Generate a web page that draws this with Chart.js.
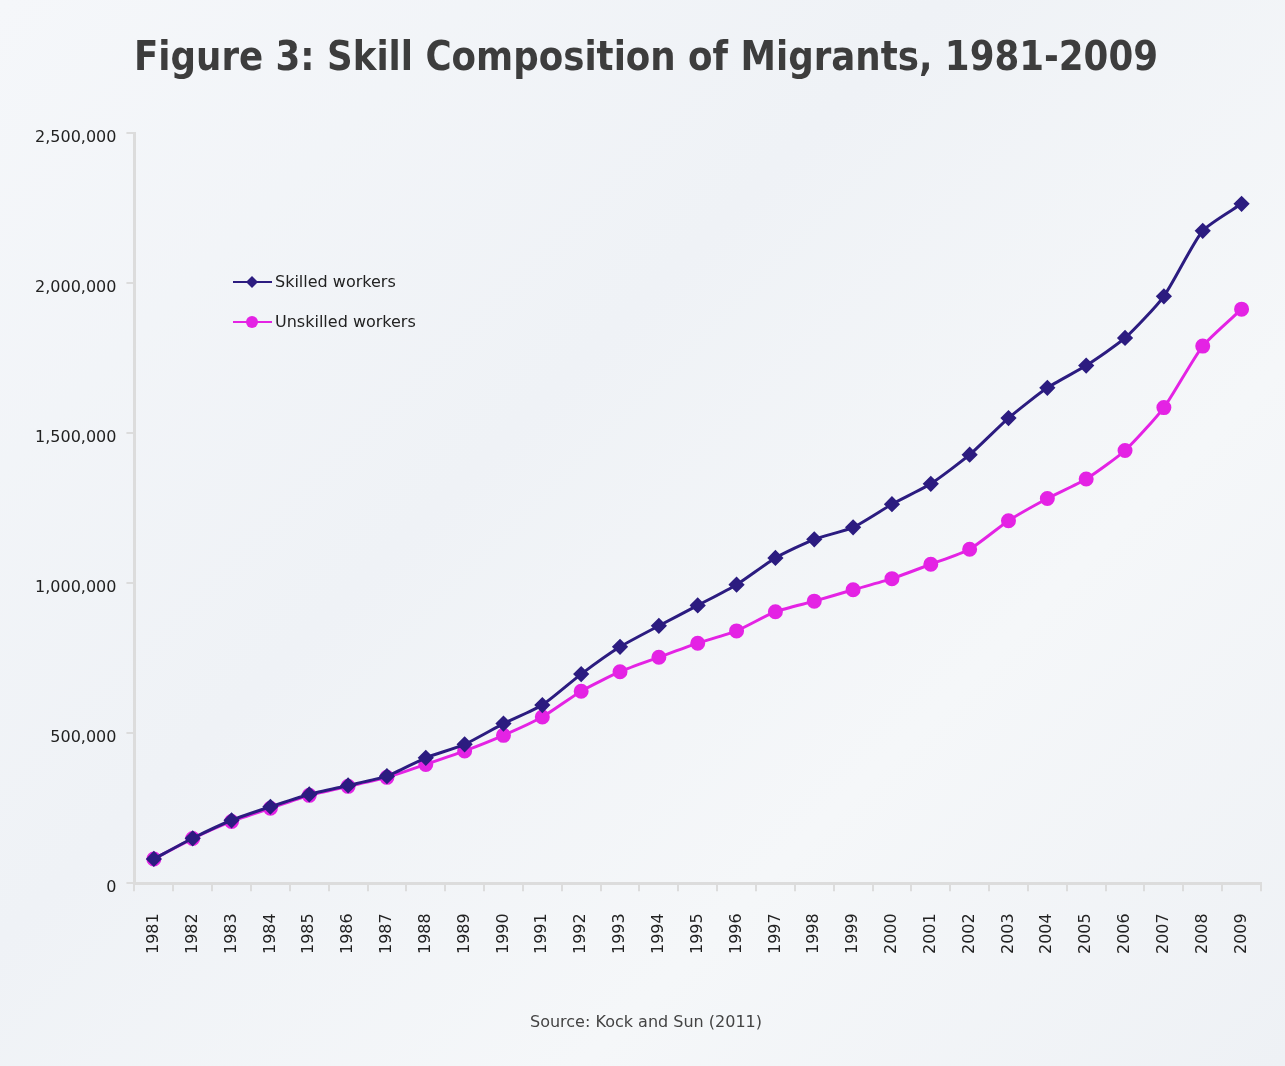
<!DOCTYPE html>
<html>
<head>
<meta charset="utf-8">
<script src="https://cdn.jsdelivr.net/npm/chart.js@4.4.1/dist/chart.umd.min.js"></script>
<style>
  html,body{margin:0;padding:0;background:#f1f4f7;}
  #wrap{position:relative;width:1285px;height:1066px;background:linear-gradient(135deg,#f5f7fa 0%,#eff2f6 40%,#f5f7f9 70%,#eef1f5 100%);}
</style>
</head>
<body>
<div id="wrap"><canvas id="chart" width="1285" height="1066"></canvas></div>
<script>
// data
const years = ["1981","1982","1983","1984","1985","1986","1987","1988","1989","1990","1991","1992","1993","1994","1995","1996","1997","1998","1999","2000","2001","2002","2003","2004","2005","2006","2007","2008","2009"];
const skilled = [81000,150000,210000,255000,296000,326000,357000,418000,463000,532000,594000,697000,788000,858000,926000,995000,1084000,1146000,1186000,1263000,1331000,1428000,1550000,1651000,1725000,1817000,1956000,2174000,2264000];
const unskilled = [81000,149000,206000,250000,293000,323000,353000,396000,441000,493000,554000,640000,705000,753000,800000,841000,905000,940000,978000,1015000,1063000,1113000,1208000,1282000,1347000,1442000,1585000,1790000,1913000];
const yTickValues = [0,500000,1000000,1500000,2000000,2500000];

const titleText = "Figure 3: Skill Composition of Migrants, 1981-2009";
const sourceText = "Source: Kock and Sun (2011)";
const FONT = "'DejaVu Sans', Verdana, sans-serif";

// title, source and inline legend drawn on the canvas
const decor = {
  id:"decor",
  afterDraw(chart){
    const c = chart.ctx;
    c.save();
    c.fillStyle = "#3d3d3d";
    c.font = "bold 40px " + FONT;
    c.textAlign = "center";
    c.textBaseline = "middle";
    c.fillText(titleText, 646, 60, 1024);

    c.fillStyle = "#444";
    c.font = "16px " + FONT;
    c.fillText(sourceText, 646, 1023);

    // legend
    c.textAlign = "left";
    chart.data.datasets.forEach((ds,i)=>{
      const y = 282 + i*40;
      c.strokeStyle = ds.borderColor;
      c.lineWidth = 2;
      c.beginPath(); c.moveTo(233,y); c.lineTo(272,y); c.stroke();
      c.fillStyle = ds.backgroundColor;
      c.beginPath();
      if(ds.pointStyle === "rectRot"){
        c.moveTo(252,y-6); c.lineTo(258,y); c.lineTo(252,y+6); c.lineTo(246,y);
      } else {
        c.arc(252,y,6,0,Math.PI*2);
      }
      c.closePath(); c.fill();
      c.fillStyle = "#222";
      c.fillText(ds.label, 275, y+1);
    });
    c.restore();
  }
};

new Chart(document.getElementById("chart"), {
  type:"line",
  data:{
    labels: years,
    datasets:[
      {label:"Skilled workers", data:skilled, borderColor:"#2c1c80", backgroundColor:"#2c1c80",
       borderWidth:3, pointStyle:"rectRot", pointRadius:6, pointHoverRadius:6, tension:0.2},
      {label:"Unskilled workers", data:unskilled, borderColor:"#e423e4", backgroundColor:"#e423e4",
       borderWidth:3, pointStyle:"circle", pointRadius:6, pointHoverRadius:6, tension:0.2}
    ]
  },
  options:{
    responsive:false,
    animation:false,
    layout:{padding:{top:133, right:24, bottom:90, left:25}},
    plugins:{legend:{display:false}, title:{display:false}, tooltip:{enabled:false}},
    scales:{
      x:{
        offset:true,
        grid:{offset:true, drawOnChartArea:false, tickLength:8, color:"#dcdcdc", lineWidth:2},
        border:{color:"#dcdcdc", width:3},
        ticks:{minRotation:90, maxRotation:90, autoSkip:false, padding:22, color:"#222", font:{family:FONT, size:16}}
      },
      y:{
        min:0, max:2500000,
        afterBuildTicks: axis => { axis.ticks = yTickValues.map(v=>({value:v})); },
        grid:{drawOnChartArea:false, tickLength:8, color:"#dcdcdc", lineWidth:2},
        border:{color:"#dcdcdc", width:3},
        ticks:{padding:10, labelOffset:5, color:"#222", font:{family:FONT, size:16},
          callback: v => v.toLocaleString("en-US")}
      }
    }
  },
  plugins:[decor]
});
</script>
</body>
</html>
